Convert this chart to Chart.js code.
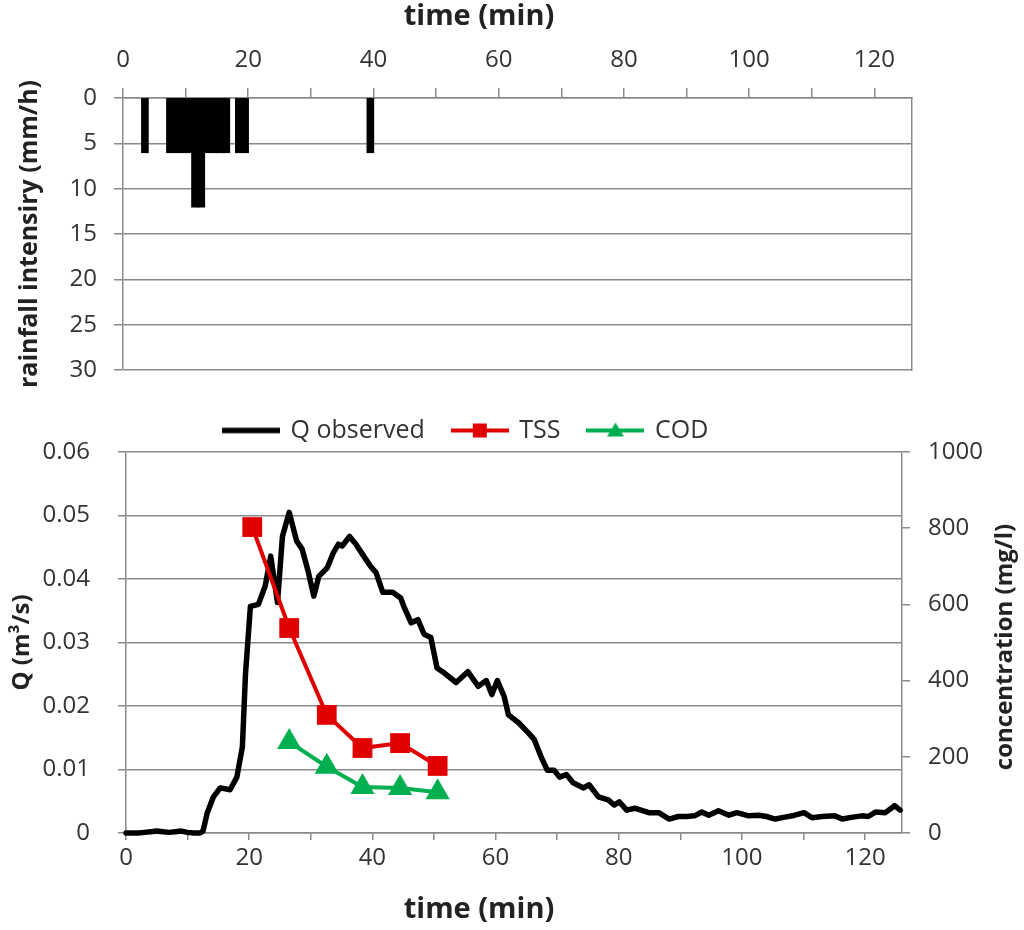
<!DOCTYPE html>
<html>
<head>
<meta charset="utf-8">
<script src="https://cdn.jsdelivr.net/npm/chart.js@4/dist/chart.umd.min.js"></script>
<style>
html,body{margin:0;padding:0;background:#fff;}
#wrap{position:relative;width:1024px;height:930px;overflow:hidden;}
#c1{position:absolute;left:0;top:0;}
#c2{position:absolute;left:0;top:390px;}
</style>
</head>
<body>
<div id="wrap">
<canvas id="c1" width="1024" height="390"></canvas>
<canvas id="c2" width="1024" height="540"></canvas>
</div>
<script>
// ---------- DATA ----------
// rainfall: start minute of each 1-minute interval with rain, and its intensity (mm/h)
const rainMinute = [3, 7, 8, 9, 10, 11, 12, 13, 14, 15, 16, 18, 19, 39];
const rainIntensity = [6, 6, 6, 6, 6, 12, 12, 6, 6, 6, 6, 6, 6, 6];

// observed discharge Q (m3/s)
const qTime = [0,1,2,3,4,5,6,7,8,9,10,11,12,12.5,13.2,14.2,15.3,16.9,18,18.9,19.4,20.2,21.5,22.6,23.5,24.6,25.4,26.5,27.7,28.6,29.5,30.5,31.3,32.7,33.7,34.5,35.1,36.3,37.3,38.6,39.7,40.6,41.7,43.3,44.6,45.1,46.3,47.4,48.4,49.5,50.5,51.4,53.6,55.5,57.2,58.5,59.4,60.3,61.4,62.1,63.7,65.3,66.3,67.4,68.4,69.5,70.4,71.5,72.6,74.3,75.2,76.7,78.3,79.3,80.1,81.3,82.6,84.9,86.5,88.2,89.7,91,92.3,93.5,94.6,96.2,97.9,99.2,101.1,102.8,104,105.4,107,108.6,110.1,111.4,113,115.1,116.3,118,119.5,120.5,121.7,123.3,124.8,125.7];
const qValue = [0,0,0,0.0001,0.0002,0.0003,0.0002,0.0001,0.0002,0.0003,0.0001,0,0,0.0003,0.0032,0.0057,0.0071,0.0068,0.0088,0.0136,0.025,0.0357,0.036,0.0389,0.0436,0.0363,0.0467,0.0505,0.046,0.0447,0.0415,0.0373,0.0404,0.0418,0.0442,0.0455,0.0452,0.0467,0.0455,0.0436,0.042,0.041,0.0379,0.0379,0.037,0.0357,0.0331,0.0336,0.0313,0.0308,0.026,0.0254,0.0237,0.0254,0.0231,0.024,0.0218,0.024,0.0215,0.0186,0.0174,0.0158,0.0147,0.012,0.0099,0.0099,0.0088,0.0092,0.0079,0.0071,0.0076,0.0057,0.0052,0.0044,0.0049,0.0036,0.0039,0.0032,0.0032,0.0022,0.0026,0.0026,0.0027,0.0033,0.0028,0.0035,0.0028,0.0032,0.0027,0.0028,0.0026,0.0022,0.0025,0.0028,0.0032,0.0024,0.0026,0.0027,0.0022,0.0025,0.0027,0.0026,0.0033,0.0032,0.0043,0.0036];

// sampled concentrations (mg/l)
const sampleTime = [20.5, 26.5, 32.6, 38.4, 44.5, 50.6];
const tssValue = [803, 538, 310, 223, 236, 176];
const codTime = [26.5, 32.6, 38.4, 44.5, 50.6];
const codValue = [239, 174, 121, 118, 107];

// axis tick settings
const timeMax = 126;
const timeStep = 10;
const timeLabelEvery = 20;
const rainMax = 30, rainStep = 5;
const qMax = 0.06, qStep = 0.01;
const concMax = 1000, concStep = 200;

// titles
const timeTitle = 'time (min)';
const rainTitle = 'rainfall intensiry (mm/h)';
const qTitle = 'Q (m³/s)';
const concTitle = 'concentration (mg/l)';

// ---------- STYLE ----------
const FONT = "'Open Sans', 'Noto Sans', sans-serif";
const GRID = '#8a8a8a';
const TXT = '#333333';
const RED = '#e00000';
const GREEN = '#00b050';
const tickFont = {family: FONT, size: 24};
const titleFontY = {family: FONT, size: 24, weight: 'bold'};
const titleFontRain = {family: FONT, size: 25, weight: 'bold'};

function timeTickLabel(v) { return (v % timeLabelEvery === 0) ? String(v) : ''; }
function noVertPad(s) { s.paddingTop = 0; s.paddingBottom = 0; }

// draws extra axis titles (horizontal time title, rotated right-axis title)
const extraTitles = {
  id: 'extraTitles',
  afterDraw(chart, args, opts) {
    const ctx = chart.ctx;
    (opts.items || []).forEach(it => {
      ctx.save();
      ctx.font = it.font;
      ctx.fillStyle = '#222';
      ctx.textAlign = 'center';
      ctx.textBaseline = 'middle';
      ctx.translate(it.x, it.y);
      if (it.rotate) ctx.rotate(it.rotate);
      ctx.fillText(it.text, 0, 0);
      ctx.restore();
    });
  }
};

// ---------- TOP CHART: rainfall ----------
new Chart(document.getElementById('c1'), {
  type: 'bar',
  data: {
    datasets: [{
      label: 'rainfall',
      data: rainMinute.map((m, i) => ({x: m + 0.5, y: rainIntensity[i]})),
      backgroundColor: '#000',
      borderWidth: 0,
      inflateAmount: 0.7,
      barPercentage: 1.0,
      categoryPercentage: 1.0
    }]
  },
  options: {
    responsive: false,
    animation: false,
    layout: {padding: {left: 0, right: 112, top: 0, bottom: 20}},
    plugins: {
      legend: {display: false}, tooltip: {enabled: false},
      extraTitles: {items: [{text: timeTitle, x: 479, y: 17, font: 'bold 29px ' + FONT}]}
    },
    scales: {
      x: {
        type: 'linear', position: 'top', min: 0, max: timeMax, offset: false,
        ticks: {stepSize: timeStep, includeBounds: false, autoSkip: false, maxRotation: 0,
                callback: timeTickLabel, font: tickFont, color: TXT, padding: 13},
        grid: {drawOnChartArea: false, drawTicks: true, tickLength: 10, color: GRID, lineWidth: 1.5, offset: false},
        border: {display: true, color: GRID, width: 1.5},
        title: {display: false},
        afterFit: s => { s.height = 98; }
      },
      y: {
        reverse: true, min: 0, max: rainMax,
        ticks: {stepSize: rainStep, font: tickFont, color: TXT, padding: 17},
        grid: {color: GRID, lineWidth: 1.5, tickLength: 9},
        border: {display: true, color: GRID, width: 1.5},
        title: {display: true, text: rainTitle, font: titleFontRain, color: '#222', padding: {top: 15, bottom: 0}},
        afterFit: s => { s.width = 123; noVertPad(s); }
      },
      yR: {
        position: 'right', display: true,
        ticks: {display: false},
        grid: {display: false},
        border: {display: true, color: GRID, width: 1.5},
        afterFit: s => { s.width = 0; noVertPad(s); }
      }
    }
  },
  plugins: [extraTitles]
});

// ---------- BOTTOM CHART: Q, TSS, COD ----------
function legendImage(color, lw, marker) {
  const c = document.createElement('canvas');
  c.width = 58; c.height = 24;
  const g = c.getContext('2d');
  g.strokeStyle = color; g.lineWidth = lw;
  g.beginPath(); g.moveTo(0, 12); g.lineTo(58, 12); g.stroke();
  g.fillStyle = color;
  if (marker === 'rect') { g.fillRect(29 - 7, 12 - 7, 14, 14); }
  if (marker === 'triangle') {
    g.beginPath(); g.moveTo(29, 4); g.lineTo(37.5, 18); g.lineTo(20.5, 18); g.closePath(); g.fill();
  }
  return c;
}
const legendImgs = [legendImage('#000', 5.5, null), legendImage(RED, 4, 'rect'), legendImage(GREEN, 4, 'triangle')];

const legendFix = {
  id: 'legendFix',
  beforeInit(chart) {
    const lg = chart.legend;
    if (lg) {
      const orig = lg.fit;
      lg.fit = function () { orig.call(this); this.height = 62; };
    }
  },
  afterLayout(chart) {
    const lg = chart.legend;
    if (lg) { const w = lg.right - lg.left; lg.left = 196; lg.right = 196 + w; }
  }
};

new Chart(document.getElementById('c2'), {
  type: 'line',
  data: {
    datasets: [
      {
        label: 'Q observed',
        data: qTime.map((t, i) => ({x: t, y: qValue[i]})),
        borderColor: '#000', borderWidth: 5.5, pointRadius: 0, tension: 0,
        yAxisID: 'y', order: 2, clip: 6, borderJoinStyle: 'round', borderCapStyle: 'round'
      },
      {
        label: 'TSS',
        data: sampleTime.map((t, i) => ({x: t, y: tssValue[i]})),
        borderColor: RED, backgroundColor: RED, borderWidth: 4,
        pointStyle: 'rect', pointRadius: 14, pointBorderWidth: 0, pointBackgroundColor: RED,
        tension: 0, yAxisID: 'y2', order: 1
      },
      {
        label: 'COD',
        data: codTime.map((t, i) => ({x: t, y: codValue[i]})),
        borderColor: GREEN, backgroundColor: GREEN, borderWidth: 4,
        pointStyle: 'triangle', pointRadius: 14, pointBorderWidth: 0, pointBackgroundColor: GREEN,
        tension: 0, yAxisID: 'y2', order: 0
      }
    ]
  },
  options: {
    responsive: false,
    animation: false,
    layout: {padding: {left: 0, right: 0, top: 0, bottom: 0}},
    plugins: {
      tooltip: {enabled: false},
      legend: {
        display: true, position: 'top', align: 'start',
        labels: {
          usePointStyle: true, pointStyleWidth: 54, padding: 28,
          font: {family: FONT, size: 25}, color: TXT,
          generateLabels: (chart) => chart.data.datasets.map((ds, i) => ({
            text: ds.label, datasetIndex: i, pointStyle: legendImgs[i],
            fillStyle: ds.borderColor, strokeStyle: ds.borderColor, lineWidth: 0, hidden: false, fontColor: TXT
          }))
        }
      },
      extraTitles: {items: [
        {text: timeTitle, x: 479, y: 520, font: 'bold 29px ' + FONT},
        {text: concTitle, x: 1005, y: 257, font: 'bold 24px ' + FONT, rotate: -Math.PI / 2}
      ]}
    },
    scales: {
      x: {
        type: 'linear', position: 'bottom', min: 0, max: timeMax,
        ticks: {stepSize: timeStep, includeBounds: false, autoSkip: false, maxRotation: 0,
                callback: timeTickLabel, font: tickFont, color: TXT, padding: 4},
        grid: {drawOnChartArea: false, drawTicks: true, tickLength: 7, color: GRID, lineWidth: 1.5},
        border: {display: true, color: GRID, width: 1.5},
        title: {display: false},
        afterFit: s => { s.height = 97; }
      },
      y: {
        position: 'left', min: 0, max: qMax,
        ticks: {stepSize: qStep, font: tickFont, color: TXT, padding: 28},
        grid: {color: GRID, lineWidth: 1.5, tickLength: 8},
        border: {display: true, color: GRID, width: 1.5},
        title: {display: true, text: qTitle, font: titleFontY, color: '#222', padding: {top: 8, bottom: 0}},
        afterFit: s => { s.width = 126; noVertPad(s); }
      },
      y2: {
        position: 'right', min: 0, max: concMax,
        ticks: {stepSize: concStep, font: tickFont, color: TXT, padding: 18, callback: v => String(v)},
        grid: {drawOnChartArea: false, color: GRID, lineWidth: 1.5, tickLength: 8},
        border: {display: true, color: GRID, width: 1.5},
        afterFit: s => { s.width = 122; noVertPad(s); }
      }
    }
  },
  plugins: [legendFix, extraTitles]
});
</script>
</body>
</html>
